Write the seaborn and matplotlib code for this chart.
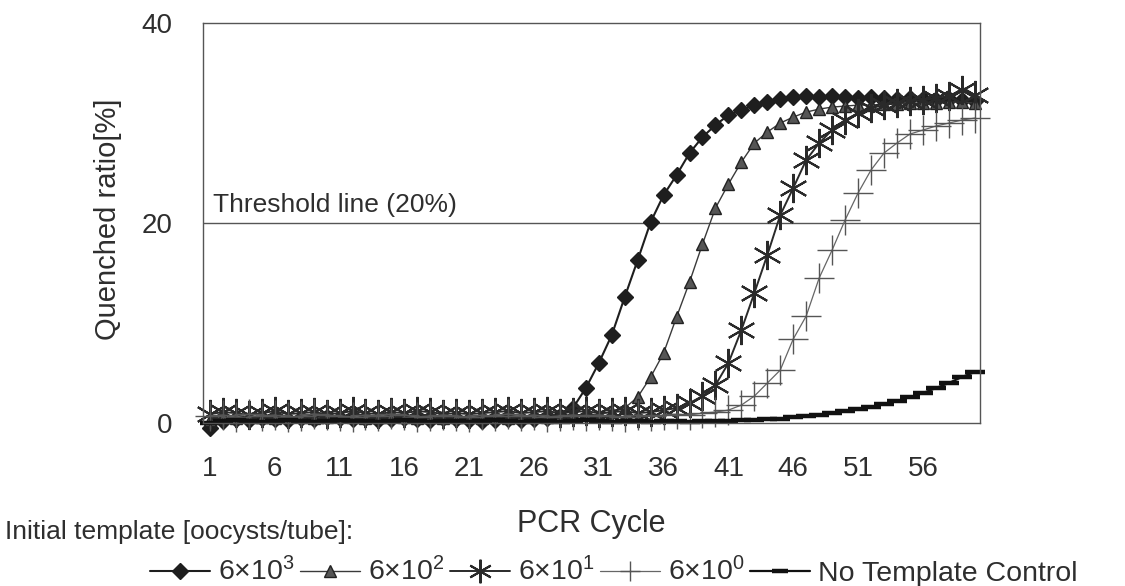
import matplotlib
matplotlib.use("Agg")
import matplotlib.pyplot as plt
import seaborn as sns
import numpy as np
import pandas as pd

# ---- data: quenched ratio (%) per PCR cycle ----
cycles = list(range(1, 61))

q_6e3 = [-0.5, 0.2, 0.4, 0.3, 0.5, 0.4, 0.3, 0.5, 0.4, 0.6,
         0.5, 0.4, 0.5, 0.3, 0.4, 0.5, 0.4, 0.3, 0.5, 0.4,
         0.3, 0.2, 0.3, 0.4, 0.3, 0.4, 0.5, 0.7, 1.5, 3.5,
         6.0, 8.8, 12.6, 16.3, 20.1, 22.8, 24.8, 27.0, 28.6, 29.8,
         30.8, 31.3, 31.8, 32.1, 32.4, 32.6, 32.7, 32.6, 32.7, 32.6,
         32.5, 32.6, 32.5, 32.4, 32.5, 32.4, 32.3, 32.4, 32.3, 32.2]

q_6e2 = [0.3, 0.6, 0.5, 0.7, 0.6, 0.5, 0.6, 0.7, 0.5, 0.6,
         0.7, 0.6, 0.5, 0.6, 0.7, 0.6, 0.5, 0.6, 0.5, 0.6,
         0.7, 0.5, 0.6, 0.5, 0.6, 0.7, 0.6, 0.7, 0.8, 0.8,
         0.9, 1.1, 1.5, 2.6, 4.6, 7.0, 10.6, 14.1, 17.9, 21.5,
         23.9, 26.1, 28.0, 29.1, 30.0, 30.6, 31.1, 31.4, 31.6, 31.7,
         31.8, 31.8, 31.9, 31.9, 32.0, 32.0, 32.0, 32.1, 32.1, 32.0]

q_6e1 = [0.9, 1.1, 1.0, 0.8, 1.0, 1.2, 0.9, 1.0, 1.1, 0.9,
         1.0, 1.2, 1.0, 0.9, 1.1, 1.0, 1.2, 1.1, 0.9, 1.0,
         0.9, 1.0, 1.1, 1.2, 1.0, 1.1, 1.2, 1.0, 1.1, 1.2,
         1.0, 1.1, 1.2, 1.0, 1.1, 1.3, 1.5, 2.0, 2.7, 3.8,
         6.0, 9.3, 13.0, 16.8, 20.8, 23.5, 26.3, 28.0, 29.3, 30.3,
         31.0, 31.5, 31.8, 32.0, 32.2, 32.3, 32.5, 32.7, 33.3, 32.8]

q_6e0 = [0.7, 0.8, 0.6, 0.9, 0.7, 0.8, 0.6, 0.7, 0.9, 0.8,
         0.7, 0.6, 0.8, 0.7, 0.9, 0.8, 0.6, 0.7, 0.8, 0.7,
         0.6, 0.8, 0.7, 0.9, 0.7, 0.8, 0.6, 0.7, 0.8, 0.7,
         0.8, 0.7, 0.6, 0.8, 0.7, 0.8, 0.9, 0.8, 1.0, 1.1,
         1.3, 1.8, 2.7, 4.0, 5.3, 8.4, 10.7, 14.5, 17.3, 20.3,
         23.0, 25.3, 27.0, 28.0, 28.9, 29.3, 29.7, 30.0, 30.3, 30.5]

q_ntc = [0.0, 0.2, 0.3, 0.2, 0.1, 0.2, 0.3, 0.2, 0.1, 0.2,
         0.3, 0.2, 0.2, 0.1, 0.2, 0.3, 0.2, 0.1, 0.2, 0.2,
         0.1, 0.2, 0.3, 0.2, 0.1, 0.2, 0.2, 0.1, 0.2, 0.3,
         0.2, 0.1, 0.2, 0.2, 0.1, 0.2, 0.2, 0.1, 0.2, 0.2,
         0.2, 0.3, 0.3, 0.4, 0.4, 0.6, 0.7, 0.8, 1.0, 1.2,
         1.4, 1.6, 1.9, 2.2, 2.6, 3.0, 3.5, 4.0, 4.6, 5.1]

series_labels = ["6\u00d710$^{3}$", "6\u00d710$^{2}$", "6\u00d710$^{1}$",
                 "6\u00d710$^{0}$", "No Template Control"]
x_ticks = [1, 6, 11, 16, 21, 26, 31, 36, 41, 46, 51, 56]
y_ticks = [0, 20, 40]
threshold = 20

# ---- style ----
sns.set_theme(style="white")
plt.rcParams["font.family"] = ["Liberation Sans", "DejaVu Sans"]
plt.rcParams["mathtext.default"] = "regular"
TXT = "#2e2e2e"

fig = plt.figure(figsize=(11.25, 5.86), dpi=100)
ax = fig.add_axes([0.1804, 0.278, 0.6907, 0.6826])

styles = [
    dict(marker="D", markersize=8, color="#1e1e1e", markerfacecolor="#1e1e1e",
         markeredgecolor="#1e1e1e", linewidth=1.5, markeredgewidth=1.0),
    dict(marker="^", markersize=8, color="#3a3a3a", markerfacecolor="#555555",
         markeredgecolor="#222222", linewidth=1.0, markeredgewidth=1.0),
    dict(marker=(6, 2, 0), markersize=21, color="#2a2a2a", markerfacecolor="none",
         markeredgecolor="#2a2a2a", linewidth=1.4, markeredgewidth=1.5),
    dict(marker="+", markersize=21, color="#666666", markerfacecolor="none",
         markeredgecolor="#555555", linewidth=0.9, markeredgewidth=1.0),
    dict(marker="_", markersize=14, color="#111111", markerfacecolor="#111111",
         markeredgecolor="#111111", linewidth=1.6, markeredgewidth=3.2),
]
legend_marker_sizes = [8, 8, 17, 15, 11]

all_series = [q_6e3, q_6e2, q_6e1, q_6e0, q_ntc]
for vals, lab, st in zip(all_series, series_labels, styles):
    df = pd.DataFrame({"cycle": cycles, "ratio": vals})
    sns.lineplot(data=df, x="cycle", y="ratio", ax=ax, label=lab,
                 estimator=None, sort=False, clip_on=False, **st)

# threshold line and its caption
ax.axhline(threshold, color="#555555", linewidth=1.0, zorder=1)
ax.text(0.013, threshold + 0.6, "Threshold line (20%)", transform=ax.get_yaxis_transform(),
        ha="left", va="bottom", fontsize=19, color=TXT)

ax.set_xlim(0.46, 60.41)
ax.set_ylim(0, 40)
ax.set_xticks(x_ticks)
ax.set_yticks(y_ticks)
ax.tick_params(axis="both", length=0, labelsize=20, labelcolor=TXT)
ax.tick_params(axis="x", pad=24)
ax.tick_params(axis="y", pad=22)
for sp in ax.spines.values():
    sp.set_color("#555555")
    sp.set_linewidth(1.0)

ax.set_ylabel("Quenched ratio[%]", fontsize=21, color=TXT)
ax.yaxis.set_label_coords(-0.104, 0.51)
ax.set_xlabel("PCR Cycle", fontsize=22, color=TXT)
ax.xaxis.set_label_coords(0.50, -0.215)

# legend block under the axes
handles, labels = ax.get_legend_handles_labels()
ax.legend_.remove()
fig.text(5 / 1125, 1 - 532 / 586, "Initial template [oocysts/tube]:", fontsize=19,
         color=TXT, ha="left", va="center")
leg = fig.legend(handles, labels, loc="center left",
                 bbox_to_anchor=(150 / 1125, 1 - 572 / 586), ncol=5, frameon=False,
                 fontsize=20.5, handlelength=2.1, handletextpad=0.28,
                 columnspacing=0.2, borderpad=0, borderaxespad=0)
for t in leg.get_texts():
    t.set_color(TXT)
for h, ms in zip(leg.legend_handles, legend_marker_sizes):
    h.set_markersize(ms)

fig.savefig("out.png", dpi=100, facecolor="white")
